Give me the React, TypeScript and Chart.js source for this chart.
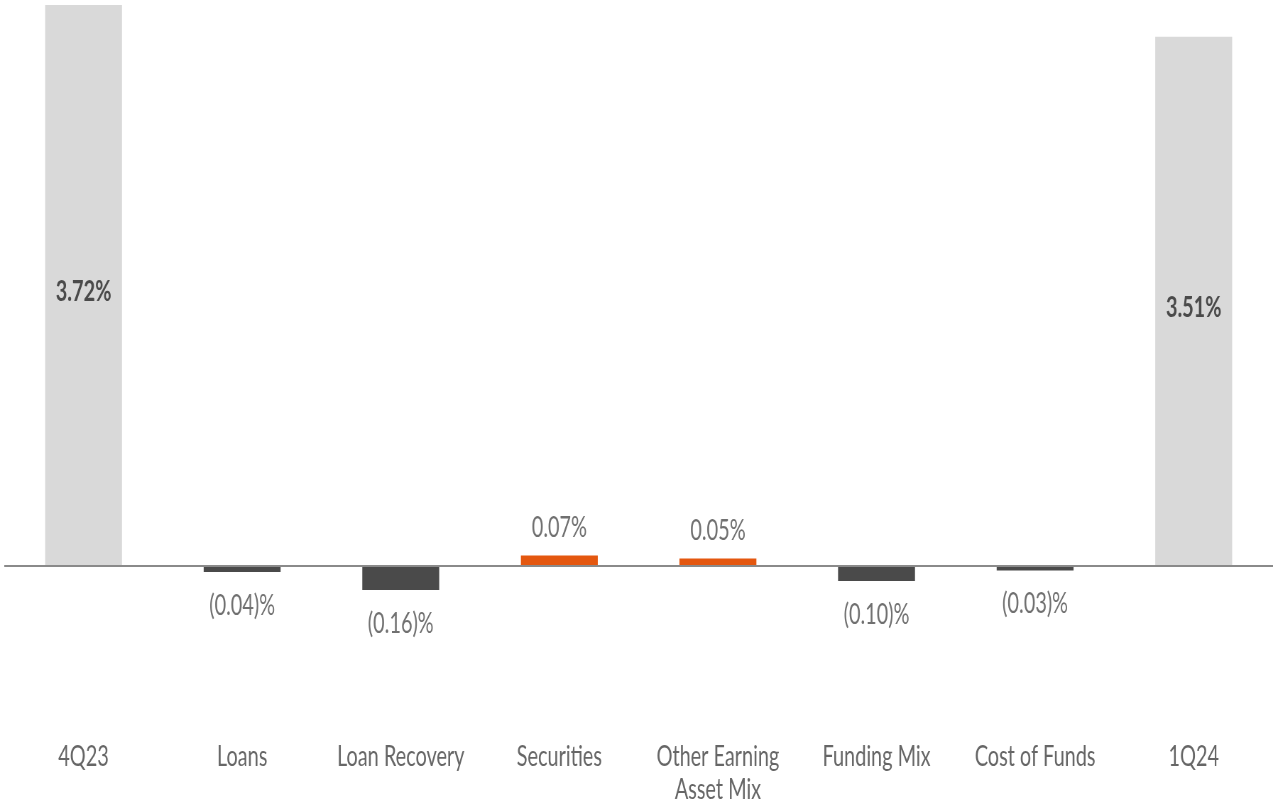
import React, { useEffect, useRef } from "react";
import { Chart, registerables } from "chart.js";

Chart.register(...registerables);

const categories: (string | string[])[] = [
  "4Q23",
  "Loans",
  "Loan Recovery",
  "Securities",
  ["Other Earning", "Asset Mix"],
  "Funding Mix",
  "Cost of Funds",
  "1Q24",
];
const values: number[] = [3.72, -0.04, -0.16, 0.07, 0.05, -0.1, -0.03, 3.51];
const valueLabels: string[] = ["3.72%", "(0.04)%", "(0.16)%", "0.07%", "0.05%", "(0.10)%", "(0.03)%", "3.51%"];
const kinds: string[] = ["total", "change", "change", "change", "change", "change", "change", "total"];

const TOTAL_COLOR = "#d9d9d9";
const POS_COLOR = "#e4570f";
const NEG_COLOR = "#4a4a4a";

const SQUEEZE = 0.71;
const VIEW_W = 1273;
const VIEW_H = 809;
const CANVAS_W = Math.round(VIEW_W / SQUEEZE);
const LEFT_PAD = Math.round(4 / SQUEEZE);

const labelPlugin = {
  id: "valueLabels",
  afterDatasetsDraw(chart: any) {
    const ctx = chart.ctx;
    const meta = chart.getDatasetMeta(0);
    ctx.save();
    ctx.textAlign = "center";
    ctx.textBaseline = "middle";
    meta.data.forEach((bar: any, i: number) => {
      const v = values[i];
      let y: number;
      if (kinds[i] === "total") {
        ctx.font = "bold 28px Lato";
        ctx.fillStyle = "#4a4a4a";
        y = (bar.y + bar.base) / 2 + 7;
      } else {
        ctx.font = "28px Lato";
        ctx.fillStyle = "#707070";
        y = v >= 0 ? bar.y - 27 : bar.y + 34;
      }
      ctx.fillText(valueLabels[i], bar.x, y);
    });
    ctx.restore();
  },
};

export default function App() {
  const ref = useRef<HTMLCanvasElement>(null);
  useEffect(() => {
    document.body.style.margin = "0";
    const canvas = ref.current!;
    const chart = new Chart(canvas, {
      type: "bar",
      data: {
        labels: categories,
        datasets: [
          {
            data: values,
            backgroundColor: values.map((v, i) =>
              kinds[i] === "total" ? TOTAL_COLOR : v >= 0 ? POS_COLOR : NEG_COLOR
            ),
            barPercentage: 0.485,
            categoryPercentage: 1,
            borderWidth: 0,
          },
        ],
      },
      options: {
        responsive: false,
        animation: false,
        devicePixelRatio: 1,
        layout: { padding: { top: 5, left: LEFT_PAD, right: 0, bottom: 2 } },
        plugins: { legend: { display: false }, tooltip: { enabled: false } },
        scales: {
          x: {
            grid: { display: false },
            border: { display: false },
            ticks: {
              color: "#666666",
              font: { family: "Lato", size: 28 },
              padding: 0,
              maxRotation: 0,
              autoSkip: false,
            },
          },
          y: {
            min: -1.1,
            max: 3.72,
            border: { display: false },
            ticks: { display: false },
            grid: {
              drawTicks: false,
              color: (c: any) => (c.tick && c.tick.value === 0 ? "#8a8a8a" : "rgba(0,0,0,0)"),
              lineWidth: 2,
            },
            afterBuildTicks: (axis: any) => {
              axis.ticks = [{ value: 0 }];
            },
          },
        },
      },
      plugins: [labelPlugin],
    });
    return () => chart.destroy();
  }, []);
  return (
    <div style={{ position: "fixed", left: 0, top: 0, width: VIEW_W, height: VIEW_H, overflow: "hidden", background: "#fff" }}>
      <canvas
        ref={ref}
        width={CANVAS_W}
        height={VIEW_H}
        style={{ display: "block", width: VIEW_W + "px", height: VIEW_H + "px" }}
      />
    </div>
  );
}
